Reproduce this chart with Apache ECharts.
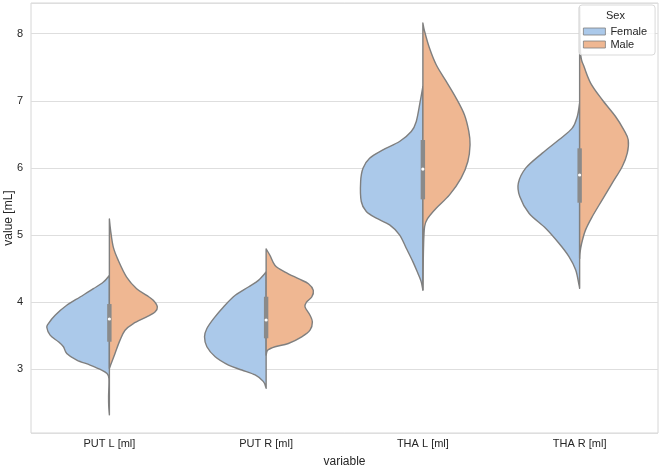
<!DOCTYPE html>
<html>
<head>
<meta charset="utf-8">
<script src="https://cdn.jsdelivr.net/npm/echarts@6/dist/echarts.min.js"></script>
<style>html,body{margin:0;padding:0;background:#fff}#c{width:661px;height:468px}</style>
</head>
<body>
<div id="c"></div>
<script>
// Categories
const categories = ['PUT L [ml]', 'PUT R [ml]', 'THA L [ml]', 'THA R [ml]'];
const sexes = ['Female', 'Male'];

// Half-violin profiles: [value, half-width as fraction of category band]
const putLFemale = [[4.396,0],[4.297,0.038],[4.198,0.102],[4.074,0.187],[3.950,0.272],[3.802,0.346],[3.678,0.389],[3.619,0.399],[3.505,0.378],[3.406,0.325],[3.332,0.293],[3.233,0.272],[3.134,0.208],[3.059,0.123],[2.985,0.049],[2.936,0.017],[2.861,0.003],[2.589,0.005],[2.441,0.004],[2.317,0]];
const putLMale = [[5.238,0],[5.064,0.008],[4.817,0.025],[4.619,0.057],[4.371,0.110],[4.198,0.174],[4.099,0.238],[4.025,0.280],[3.926,0.306],[3.851,0.291],[3.777,0.238],[3.678,0.153],[3.579,0.100],[3.431,0.068],[3.233,0.036],[3.059,0.008],[3.010,0]];
const putRFemale = [[4.446,0],[4.322,0.049],[4.223,0.113],[4.099,0.197],[3.926,0.272],[3.752,0.335],[3.604,0.378],[3.480,0.393],[3.332,0.378],[3.183,0.325],[3.059,0.240],[2.985,0.155],[2.911,0.070],[2.812,0.017],[2.713,0]];
const putRMale = [[4.792,0],[4.693,0.025],[4.545,0.057],[4.446,0.121],[4.347,0.206],[4.272,0.270],[4.173,0.301],[4.074,0.291],[4.000,0.259],[3.926,0.248],[3.802,0.280],[3.703,0.295],[3.579,0.280],[3.480,0.227],[3.381,0.142],[3.332,0.057],[3.282,0.011],[3.208,0]];
const thaLFemale = [[7.214,0],[6.990,0.017],[6.692,0.042],[6.542,0.074],[6.393,0.149],[6.269,0.255],[6.144,0.340],[5.995,0.382],[5.796,0.397],[5.498,0.393],[5.348,0.361],[5.249,0.297],[5.149,0.212],[5.000,0.149],[4.801,0.106],[4.602,0.064],[4.428,0.032],[4.303,0.011],[4.179,0]];
const thaLMale = [[8.159,0],[8.035,0.011],[7.786,0.042],[7.537,0.085],[7.289,0.149],[7.040,0.212],[6.791,0.265],[6.542,0.293],[6.343,0.301],[6.095,0.287],[5.846,0.244],[5.597,0.170],[5.398,0.085],[5.249,0.032],[5.124,0.011],[4.801,0.004],[4.179,0]];
const thaRFemale = [[6.965,0],[6.766,0.015],[6.592,0.047],[6.418,0.132],[6.219,0.238],[5.995,0.344],[5.771,0.391],[5.572,0.382],[5.323,0.323],[5.100,0.217],[4.876,0.132],[4.677,0.068],[4.478,0.025],[4.254,0.004],[4.204,0]];
const thaRMale = [[8.400,0],[7.711,0.006],[7.512,0.028],[7.264,0.070],[7.015,0.144],[6.766,0.229],[6.567,0.282],[6.418,0.310],[6.219,0.304],[6.020,0.272],[5.771,0.208],[5.522,0.144],[5.274,0.081],[5.075,0.038],[4.876,0.013],[4.726,0.002],[4.650,0]];

// Inner box: [q1, median, q3] per category
const boxQ1 = [3.407, 3.458, 5.530, 5.480];
const boxMedian = [3.746, 3.731, 5.982, 5.893];
const boxQ3 = [3.969, 4.078, 6.415, 6.291];

const yMin = 2.046, yMax = 8.458;

const femaleProfiles = [putLFemale, putRFemale, thaLFemale, thaRFemale];
const maleProfiles = [putLMale, putRMale, thaLMale, thaRMale];

const FEMALE_COLOR = '#abc9ea';
const MALE_COLOR = '#efb792';
const EDGE = '#7f7f7f';

// Smooth drawing of the outline: Catmull-Rom curve through the pixel points
function splinePath(pts) {
  let d = 'M' + pts[0][0].toFixed(2) + ' ' + pts[0][1].toFixed(2);
  for (let i = 0; i < pts.length - 1; i++) {
    const p0 = pts[Math.max(0, i - 1)], p1 = pts[i], p2 = pts[i + 1], p3 = pts[Math.min(pts.length - 1, i + 2)];
    const c1 = [p1[0] + (p2[0] - p0[0]) / 6, p1[1] + (p2[1] - p0[1]) / 6];
    const c2 = [p2[0] - (p3[0] - p1[0]) / 6, p2[1] - (p3[1] - p1[1]) / 6];
    d += ' C' + c1[0].toFixed(2) + ' ' + c1[1].toFixed(2) + ' ' + c2[0].toFixed(2) + ' ' + c2[1].toFixed(2) + ' ' + p2[0].toFixed(2) + ' ' + p2[1].toFixed(2);
  }
  return d + ' Z';
}

function halfRenderer(profiles, side, color) {
  return function (params, api) {
    const idx = api.value(0);
    const prof = profiles[idx];
    const band = api.size([1, 0])[0];
    const cx = api.coord([idx, yMin])[0];
    const pts = prof.map(function (p) {
      return [cx + side * p[1] * band, api.coord([idx, p[0]])[1]];
    });
    return {
      type: 'path',
      shape: { pathData: splinePath(pts) },
      style: { fill: color, stroke: EDGE, lineWidth: 1.4, lineJoin: 'round' }
    };
  };
}

function boxRenderer(params, api) {
  const idx = api.value(0);
  const cx = api.coord([idx, yMin])[0];
  const yq1 = api.coord([idx, boxQ1[idx]])[1];
  const yq3 = api.coord([idx, boxQ3[idx]])[1];
  const ym = api.coord([idx, boxMedian[idx]])[1];
  return {
    type: 'group',
    children: [
      { type: 'rect', shape: { x: cx - 2.2, y: yq3, width: 4.4, height: yq1 - yq3 }, style: { fill: '#8a8a8a' } },
      { type: 'circle', shape: { cx: cx, cy: ym, r: 1.6 }, style: { fill: '#ffffff' } }
    ]
  };
}

const catIdx = categories.map(function (c, i) { return [i]; });

const chart = echarts.init(document.getElementById('c'), null, { renderer: 'canvas' });
chart.setOption({
  animation: false,
  backgroundColor: '#ffffff',
  textStyle: { fontFamily: 'Liberation Sans, Arial, sans-serif' },
  grid: { left: 31, right: 3, top: 3, bottom: 35, containLabel: false, outerBoundsMode: 'none', show: true, borderColor: '#d6d6d6', borderWidth: 1 },
  xAxis: {
    type: 'category',
    data: categories,
    boundaryGap: true,
    axisLine: { show: false },
    axisTick: { show: false },
    splitLine: { show: false },
    axisLabel: { color: '#262626', fontSize: 11, margin: 5 },
    name: 'variable',
    nameLocation: 'middle',
    nameGap: 23,
    nameMoveOverlap: false,
    nameTextStyle: { color: '#262626', fontSize: 12 }
  },
  yAxis: {
    type: 'value',
    min: yMin,
    max: yMax,
    splitNumber: 6,
    axisLine: { show: false },
    axisTick: { show: false },
    splitLine: { show: true, lineStyle: { color: '#dedede', width: 1.2 } },
    axisLabel: {
      color: '#262626', fontSize: 11, margin: 8,
      showMinLabel: false, showMaxLabel: false,
      formatter: function (v) { return Math.abs(v - Math.round(v)) < 1e-6 ? String(Math.round(v)) : ''; }
    },
    name: 'value [mL]',
    nameLocation: 'middle',
    nameGap: 16,
    nameMoveOverlap: false,
    nameTextStyle: { color: '#262626', fontSize: 12 }
  },
  legend: {
    data: sexes,
    orient: 'vertical',
    left: 579,
    top: 5,
    padding: [21, 8, 5, 4],
    itemGap: 2,
    icon: 'rect',
    itemWidth: 22,
    itemHeight: 7,
    itemStyle: { borderColor: EDGE, borderWidth: 0.8 },
    textStyle: { color: '#262626', fontSize: 11 },
    backgroundColor: 'rgba(255,255,255,0.8)',
    borderColor: '#d9d9d9',
    borderWidth: 1,
    borderRadius: 3,
    selectedMode: false,
    z: 10
  },
  graphic: [
    { type: 'text', left: 606, top: 10, z: 100, style: { text: 'Sex', fill: '#262626', font: '11px Liberation Sans, Arial, sans-serif' } }
  ],
  series: [
    { name: 'Female', type: 'custom', data: catIdx, itemStyle: { color: FEMALE_COLOR }, renderItem: halfRenderer(femaleProfiles, -1, FEMALE_COLOR), z: 2 },
    { name: 'Male', type: 'custom', data: catIdx, itemStyle: { color: MALE_COLOR }, renderItem: halfRenderer(maleProfiles, 1, MALE_COLOR), z: 2 },
    { name: 'box', type: 'custom', data: catIdx, renderItem: boxRenderer, z: 3 }
  ]
});
</script>
</body>
</html>
